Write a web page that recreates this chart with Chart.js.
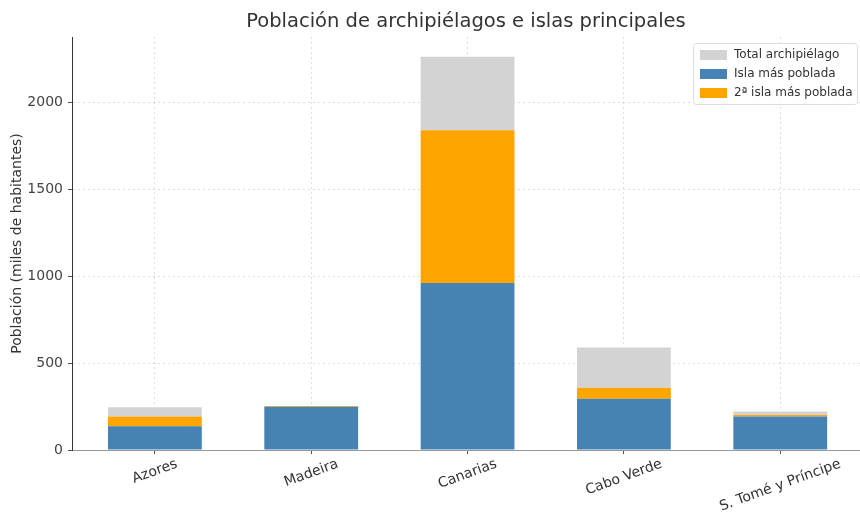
<!DOCTYPE html>
<html>
<head>
<meta charset="utf-8">
<script src="https://cdn.jsdelivr.net/npm/chart.js@4"></script>
<style>
  body { margin: 0; background: #fff; }
  #wrap { width: 860px; height: 512px; }
</style>
</head>
<body>
<div id="wrap"><canvas id="grafico" width="860" height="512"></canvas></div>
<script>
var islas = ['Azores', 'Madeira', 'Canarias', 'Cabo Verde', 'S. Tomé y Príncipe'];
var totales = [246, 253, 2262, 590, 222];
var primera = [137, 248, 961, 295, 192];
var segunda = [56, 5, 878, 63, 9];
var yTicks = [0, 500, 1000, 1500, 2000];

// resto del archipiélago encima de las dos islas
var resto = totales.map((t, i) => Math.max(0, t - primera[i] - segunda[i]));
var puntos = arr => arr.map((v, i) => ({ x: i, y: v }));

var fuente = 'DejaVu Sans, sans-serif';
var gris = '#d3d3d3', azul = '#4682b4', naranja = '#ffa500';

var dibujoExtra = {
    id: 'dibujoExtra',
    afterDraw(chart) {
        var c = chart.ctx, area = chart.chartArea, xs = chart.scales.x;
        c.save();
        // titulo
        c.fillStyle = '#333';
        c.font = '19.5px ' + fuente;
        c.textAlign = 'center';
        c.textBaseline = 'middle';
        c.fillText('Población de archipiélagos e islas principales', (area.left + area.right) / 2, 22);

        // etiquetas x giradas, centradas en la marca
        c.font = '14px ' + fuente;
        var ang = 20 * Math.PI / 180;
        islas.forEach((lab, i) => {
            var w = c.measureText(lab).width;
            var h = w * Math.sin(ang) + 14 * Math.cos(ang);
            var x = xs.getPixelForValue(i);
            c.save();
            c.translate(x, area.bottom + 7 + h / 2);
            c.rotate(-ang);
            c.fillText(lab, 0, 0);
            c.restore();
        });

        // leyenda
        var lx = area.right - 167, ly = area.top + 6;
        c.fillStyle = 'rgba(255,255,255,0.85)';
        c.strokeStyle = '#ddd';
        c.lineWidth = 1;
        c.beginPath();
        c.roundRect(lx + 0.5, ly + 0.5, 164, 61, 3);
        c.fill();
        c.stroke();
        var items = [['Total archipiélago', gris], ['Isla más poblada', azul], ['2ª isla más poblada', naranja]];
        c.font = '12px ' + fuente;
        c.textAlign = 'left';
        items.forEach((it, k) => {
            var yy = ly + 12 + k * 19;
            c.fillStyle = it[1];
            c.fillRect(lx + 7, yy - 5, 27, 10);
            c.fillStyle = '#333';
            c.fillText(it[0], lx + 41, yy);
        });
        c.restore();
    }
};

var ctx = document.getElementById('grafico');
var grafico = new Chart(ctx, {
    type: 'bar',
    data: {
        datasets: [{
            label: 'Isla más poblada',
            data: puntos(primera),
            backgroundColor: azul
        }, {
            label: '2ª isla más poblada',
            data: puntos(segunda),
            backgroundColor: naranja
        }, {
            label: 'Total archipiélago',
            data: puntos(resto),
            backgroundColor: gris
        }]
    },
    options: {
        responsive: false,
        animation: false,
        layout: { padding: { top: 37, right: 0, left: 0, bottom: 0 } },
        datasets: { bar: { barPercentage: 0.6, categoryPercentage: 1 } },
        plugins: {
            legend: { display: false },
            title: { display: false },
            tooltip: { enabled: false }
        },
        scales: {
            x: {
                type: 'linear',
                stacked: true,
                z: 1,
                min: -0.53,
                max: 4.51,
                offset: false,
                afterFit(s) { s.height = 62; },
                afterBuildTicks(s) { s.ticks = islas.map((l, i) => ({ value: i })); },
                ticks: { display: false },
                grid: {
                    offset: false,
                    color: 'rgba(0,0,0,0.13)',
                    drawTicks: true,
                    tickLength: 4,
                    tickColor: '#555',
                    tickBorderDash: []
                },
                border: { display: true, color: '#999', width: 1, dash: [2, 3] }
            },
            y: {
                stacked: true,
                z: 1,
                min: 0,
                max: 2375,
                afterFit(s) { s.width = 72; },
                afterBuildTicks(s) { s.ticks = yTicks.map(v => ({ value: v })); },
                ticks: {
                    color: '#444',
                    font: { family: fuente, size: 14 },
                    padding: 5,
                    callback: v => String(v)
                },
                grid: {
                    color: 'rgba(0,0,0,0.13)',
                    tickLength: 4,
                    tickColor: '#555',
                    tickBorderDash: []
                },
                border: { display: true, color: '#333', width: 1, dash: [2, 3] },
                title: {
                    display: true,
                    text: 'Población (miles de habitantes)',
                    color: '#333',
                    font: { family: fuente, size: 14 },
                    padding: { top: 9, bottom: 4 }
                }
            }
        }
    },
    plugins: [dibujoExtra]
});
</script>
</body>
</html>
